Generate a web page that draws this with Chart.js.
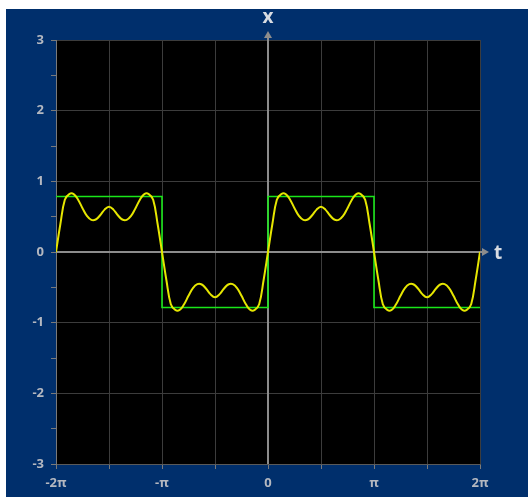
<!DOCTYPE html>
<html>
<head>
<meta charset="utf-8">
<script src="https://cdn.jsdelivr.net/npm/chart.js@4/dist/chart.umd.min.js"></script>
<style>
  html, body { margin: 0; padding: 0; background: #ffffff; }
  #wrap { position: absolute; left: 6px; top: 9px; width: 522px; height: 488px; background: #002f6c; }
  canvas { display: block; }
</style>
</head>
<body>
<div id="wrap"><canvas id="c" width="522" height="488"></canvas></div>
<script>
// ---- data ----
const PI = Math.PI;
const tStart = -2;          // in units of π
const tStepPi = 1 / 24;     // sampling step, units of π
// yellow partial Fourier sum, sampled every π/24 from -2π to 2π
const partialSum = [
  0, 0.40, 0.74, 0.82, 0.82, 0.74, 0.62, 0.51, 0.455, 0.46, 0.52, 0.60, 0.64, 0.60, 0.52, 0.46, 0.455, 0.51, 0.62, 0.74, 0.82, 0.82, 0.74, 0.40,
  0, -0.40, -0.74, -0.82, -0.82, -0.74, -0.62, -0.51, -0.455, -0.46, -0.52, -0.60, -0.64, -0.60, -0.52, -0.46, -0.455, -0.51, -0.62, -0.74, -0.82, -0.82, -0.74, -0.40,
  0, 0.40, 0.74, 0.82, 0.82, 0.74, 0.62, 0.51, 0.455, 0.46, 0.52, 0.60, 0.64, 0.60, 0.52, 0.46, 0.455, 0.51, 0.62, 0.74, 0.82, 0.82, 0.74, 0.40,
  0, -0.40, -0.74, -0.82, -0.82, -0.74, -0.62, -0.51, -0.455, -0.46, -0.52, -0.60, -0.64, -0.60, -0.52, -0.46, -0.455, -0.51, -0.62, -0.74, -0.82, -0.82, -0.74, -0.40,
  0
];
// green square wave corners (t in units of π, value)
const squareT = [-2, -1, -1, 0, 0, 1, 1, 2];
const squareV = [0.785, 0.785, -0.785, -0.785, 0.785, 0.785, -0.785, -0.785];
// tick definitions
const xTicksPi = [-2, -1.5, -1, -0.5, 0, 0.5, 1, 1.5, 2];
const xTickLabels = ['-2π', '', '-π', '', '0', '', 'π', '', '2π'];
const yTicks = [-3, -2.5, -2, -1.5, -1, -0.5, 0, 0.5, 1, 1.5, 2, 2.5, 3];

const yellowData = partialSum.map((v, i) => ({ x: (tStart + i * tStepPi) * PI, y: v }));
const greenData = squareT.map((t, i) => ({ x: t * PI, y: squareV[i] }));

const FONT = { family: "'Open Sans', 'DejaVu Sans', sans-serif", size: 13, weight: 'bold' };
const LABEL_COLOR = '#b4b8c0';

const plotBg = {
  id: 'plotBg',
  beforeDraw(chart) {
    const { ctx, chartArea: a } = chart;
    ctx.save();
    ctx.fillStyle = '#000000';
    ctx.fillRect(a.left, a.top, a.right - a.left, a.bottom - a.top);
    ctx.restore();
  }
};

const axesArrows = {
  id: 'axesArrows',
  beforeDatasetsDraw(chart) {
    const { ctx, chartArea: a, scales } = chart;
    const x0 = Math.round(scales.x.getPixelForValue(0));
    const y0 = Math.round(scales.y.getPixelForValue(0));
    ctx.save();
    ctx.strokeStyle = '#8c8c8c';
    ctx.fillStyle = '#8c8c8c';
    ctx.lineWidth = 2;
    // vertical axis
    ctx.beginPath();
    ctx.moveTo(x0, a.bottom);
    ctx.lineTo(x0, a.top - 4);
    ctx.stroke();
    ctx.beginPath();
    ctx.moveTo(x0, a.top - 9);
    ctx.lineTo(x0 - 4, a.top - 2);
    ctx.lineTo(x0 + 4, a.top - 2);
    ctx.closePath();
    ctx.fill();
    // horizontal axis
    ctx.beginPath();
    ctx.moveTo(a.left, y0);
    ctx.lineTo(a.right + 4, y0);
    ctx.stroke();
    ctx.beginPath();
    ctx.moveTo(a.right + 9, y0);
    ctx.lineTo(a.right + 2, y0 - 4);
    ctx.lineTo(a.right + 2, y0 + 4);
    ctx.closePath();
    ctx.fill();
    // axis names
    ctx.fillStyle = '#d8dce2';
    ctx.font = "bold 19px 'Open Sans', 'DejaVu Sans', sans-serif";
    ctx.textAlign = 'center';
    ctx.textBaseline = 'alphabetic';
    ctx.fillText('x', x0, 14);
    ctx.fillText('t', a.right + 18, y0 + 7);
    ctx.restore();
  }
};

new Chart(document.getElementById('c'), {
  type: 'scatter',
  data: {
    datasets: [
      {
        data: greenData,
        showLine: true,
        borderColor: '#19e619',
        borderWidth: 1.6,
        pointRadius: 0,
        tension: 0,
        order: 2
      },
      {
        data: yellowData,
        showLine: true,
        borderColor: '#e6e600',
        borderWidth: 2,
        pointRadius: 0,
        tension: 0.4,
        order: 1
      }
    ]
  },
  options: {
    responsive: false,
    animation: false,
    events: [],
    layout: { padding: { left: 0, right: 48, top: 31, bottom: 0 } },
    plugins: { legend: { display: false }, tooltip: { enabled: false } },
    scales: {
      x: {
        type: 'linear',
        min: -2 * PI,
        max: 2 * PI,
        afterBuildTicks(scale) { scale.ticks = xTicksPi.map(t => ({ value: t * PI })); },
        afterFit(scale) { scale.height = 33; },
        ticks: {
          autoSkip: false,
          maxRotation: 0,
          color: LABEL_COLOR,
          font: FONT,
          padding: 6,
          callback: (v, i) => xTickLabels[i]
        },
        grid: {
          color: '#3c3c3c',
          lineWidth: 1,
          tickLength: 5,
          tickColor: '#7a7a7a'
        },
        border: { color: '#5a5a5a', width: 1 }
      },
      y: {
        type: 'linear',
        min: -3,
        max: 3,
        afterBuildTicks(scale) { scale.ticks = yTicks.map(v => ({ value: v })); },
        afterFit(scale) { scale.width = 50; },
        ticks: {
          autoSkip: false,
          color: LABEL_COLOR,
          font: FONT,
          padding: 7,
          callback: v => (Number.isInteger(v) ? String(v) : '')
        },
        grid: {
          color: ctx => (Number.isInteger(ctx.tick && ctx.tick.value) ? '#3c3c3c' : 'rgba(0,0,0,0)'),
          lineWidth: 1,
          tickLength: 5,
          tickColor: '#7a7a7a'
        },
        border: { color: '#7a7a7a', width: 1 }
      }
    }
  },
  plugins: [plotBg, axesArrows]
});
</script>
</body>
</html>
